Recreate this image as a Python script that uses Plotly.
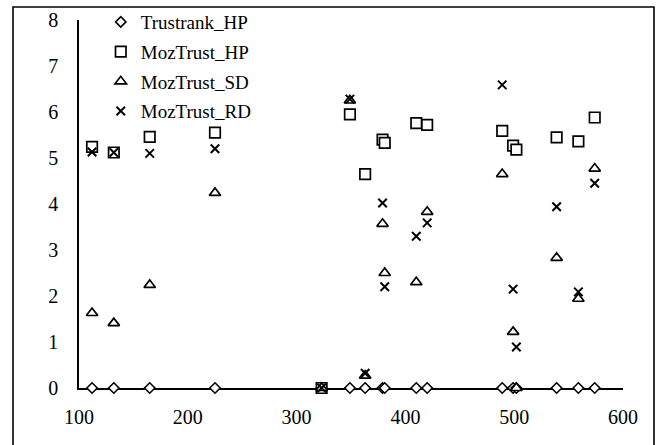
import plotly.graph_objects as go

x_vals = [112, 132, 165, 225, 323, 349, 363, 379, 381, 410, 420, 489, 499, 502, 539, 559, 574]
trustrank_hp = [0] * 17
moztrust_hp = [5.24, 5.12, 5.46, 5.55, 0, 5.95, 4.65, 5.40, 5.33, 5.76, 5.72, 5.59, 5.27, 5.18, 5.45, 5.36, 5.88]
moztrust_sd = [1.63, 1.41, 2.24, 4.24, 0, 6.25, 0.27, 3.57, 2.50, 2.30, 3.83, 4.65, 1.22, 0, 2.83, 1.94, 4.77]
moztrust_rd = [5.13, 5.12, 5.10, 5.20, 0, 6.28, 0.32, 4.02, 2.20, 3.30, 3.59, 6.59, 2.15, 0.89, 3.94, 2.09, 4.45]

series = [
    ("Trustrank_HP", trustrank_hp, "diamond", 8, "white", 1.6),
    ("MozTrust_HP", moztrust_hp, "square", 10.5, "white", 1.7),
    ("MozTrust_SD", moztrust_sd, "triangle-up", 10, "white", 1.7),
    ("MozTrust_RD", moztrust_rd, "x-thin-open", 8.5, "black", 2.0),
]

fig = go.Figure()
for i, (name, ys, sym, sz, fill, lw) in enumerate(series):
    fig.add_trace(go.Scatter(
        x=x_vals, y=ys, mode="markers", name=name, legendgroup=f"g{i}",
        cliponaxis=False,
        marker=dict(symbol=sym, size=sz, color=fill,
                    line=dict(color="black", width=lw)),
    ))

font_family = "Liberation Serif"
fig.update_layout(
    width=662, height=445,
    margin=dict(l=79, r=39, t=20, b=57, autoexpand=False),
    paper_bgcolor="white", plot_bgcolor="white",
    font=dict(family=font_family, color="black", size=20),
    showlegend=True,
    legend=dict(x=0.04, y=1.046, xanchor="left", yanchor="top",
                bgcolor="rgba(0,0,0,0)", font=dict(size=19, family=font_family),
                itemwidth=30, traceorder="grouped", tracegroupgap=2),
    xaxis=dict(range=[100, 600], tickvals=[100, 200, 300, 400, 500, 600],
               showgrid=False, zeroline=False, showline=True, linecolor="black",
               linewidth=1.6, ticks="", layer="below traces",
               ticklabelstandoff=10, tickfont=dict(size=20, family=font_family)),
    yaxis=dict(range=[0, 8], tickvals=[0, 1, 2, 3, 4, 5, 6, 7, 8],
               showgrid=False, zeroline=False, showline=True, linecolor="black",
               linewidth=1.6, ticks="", layer="below traces",
               ticklabelstandoff=15, tickfont=dict(size=20, family=font_family)),
    shapes=[dict(type="rect", xref="paper", yref="paper",
                 x0=(13 - 79) / 544, x1=(654 - 79) / 544,
                 y0=(388 - 450) / 368, y1=(388 - 7) / 368,
                 line=dict(color="black", width=1.6), layer="below")],
)

fig.write_html("out.html")
